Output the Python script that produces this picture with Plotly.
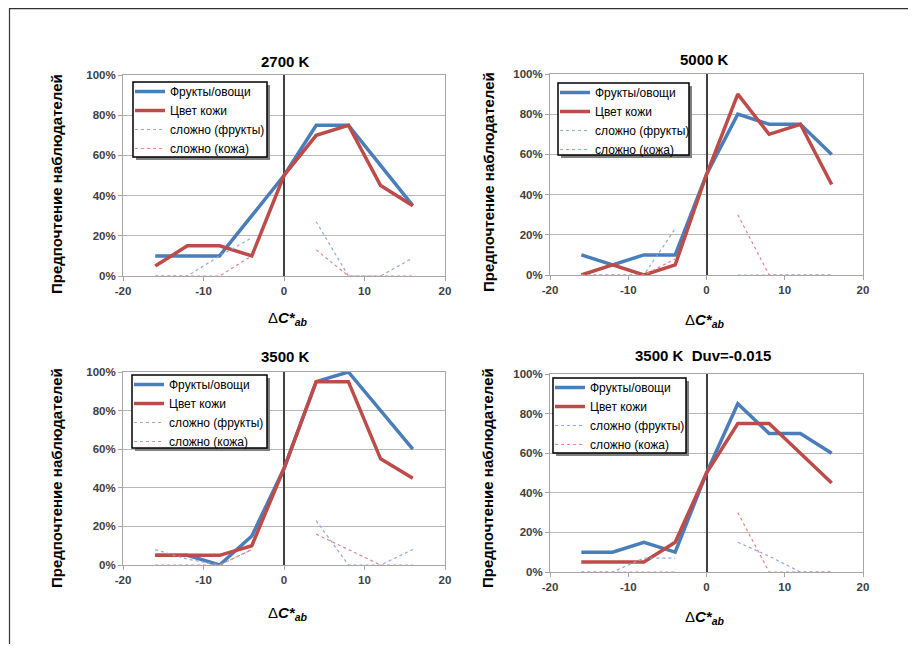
import plotly.graph_objects as go

# page body has an 8px margin: figure is drawn at screen offset (8, 8)
OFF = 8
W, H = 900, 636

x_vals = [-16, -12, -8, -4, 0, 4, 8, 12, 16]

titles = ["2700 K", "5000 K", "3500 K", "3500 K  Duv=-0.015"]

# percent values per panel
fruit_2700 = [10, 10, 10, 30, 50, 75, 75, 55, 35]
skin_2700 = [5, 15, 15, 10, 50, 70, 75, 45, 35]
cfruit_2700 = [0, 0, 10, 19, None, 27, 0, 0, 9]
cskin_2700 = [0, 0, 0, 10, None, 13, 0, 0, 0]

fruit_5000 = [10, 5, 10, 10, 50, 80, 75, 75, 60]
skin_5000 = [0, 5, 0, 5, 50, 90, 70, 75, 45]
cfruit_5000 = [0, 0, 0, 23, None, 0, 0, 0, 0]
cskin_5000 = [0, 0, 0, 8, None, 30, 0, 0, 0]

fruit_3500 = [5, 5, 0, 15, 50, 95, 100, 80, 60]
skin_3500 = [5, 5, 5, 10, 50, 95, 95, 55, 45]
cfruit_3500 = [8, 3, 0, 8, None, 23, 0, 0, 8]
cskin_3500 = [0, 0, 0, 8, None, 16, 8, 0, 0]

fruit_duv = [10, 10, 15, 10, 50, 85, 70, 70, 60]
skin_duv = [5, 5, 5, 15, 50, 75, 75, 60, 45]
cfruit_duv = [0, 0, 7, 7, None, 15, 8, 0, 0]
cskin_duv = [0, 0, 0, 0, None, 30, 0, 0, 0]

series_names = ["Фрукты/овощи", "Цвет кожи", "сложно (фрукты)", "сложно (кожа)"]
y_ticks = [0, 0.2, 0.4, 0.6, 0.8, 1.0]
y_tick_labels = ["0%", "20%", "40%", "60%", "80%", "100%"]
x_ticks = [-20, -10, 0, 10, 20]
x_tick_labels = ["-20", "-10", "0", "10", "20"]

panels = [
    (fruit_2700, skin_2700, cfruit_2700, cskin_2700),
    (fruit_5000, skin_5000, cfruit_5000, cskin_5000),
    (fruit_3500, skin_3500, cfruit_3500, cskin_3500),
    (fruit_duv, skin_duv, cfruit_duv, cskin_duv),
]

# screen-pixel boxes of plot areas: (left, right, top(100%), bottom(0%))
boxes = [
    (123, 445, 75, 276),
    (550, 863, 74, 275),
    (123, 445, 372, 565),
    (550, 863, 374, 572),
]
title_pos = [(285, 61), (704, 59), (285, 356), (703, 355)]
ytitle_pos = [(57, 184), (488, 182), (57, 478), (488, 478)]
xtitle_pos = [(288, 318), (705, 320), (288, 613), (705, 617)]
# legend frames (left, top, right, bottom) in screen pixels
legend_boxes = [(133, 82, 267, 157), (558, 83, 689, 155), (132, 375, 267, 448), (553, 378, 686, 453)]

styles = [
    dict(color="#4A7EBB", width=3.5, dash="solid"),
    dict(color="#BE4B48", width=3.5, dash="solid"),
    dict(color="#8EAADB", width=1.2, dash="dot"),
    dict(color="#E8858A", width=1.2, dash="dot"),
]

def px(xs):
    return (xs - OFF) / W

def py(ys):
    return 1 - (ys - OFF) / H

fig = go.Figure()
tick_font = dict(family="Liberation Sans Narrow, Liberation Sans, Arial", size=11.5,
                 color="#404040", weight="bold")

shapes = [
    dict(type="line", xref="paper", yref="paper", x0=px(9), x1=1.0, y0=py(8.7), y1=py(8.7),
         line=dict(color="#333333", width=1.2)),
    dict(type="line", xref="paper", yref="paper", x0=px(9.5), x1=px(9.5), y0=py(8.5), y1=0,
         line=dict(color="#333333", width=1.2)),
]

for i, (data, box) in enumerate(zip(panels, boxes)):
    n = i + 1
    xa = "x" if n == 1 else f"x{n}"
    ya = "y" if n == 1 else f"y{n}"
    lg = "legend" if n == 1 else f"legend{n}"
    for name, vals, st in zip(series_names, data, styles):
        fig.add_trace(go.Scatter(
            x=x_vals, y=[None if v is None else v / 100 for v in vals],
            mode="lines", name=name, line=st, xaxis=xa, yaxis=ya,
            legend=lg, connectgaps=False, hoverinfo="skip"))
    l, r, t, b = box
    xk = "xaxis" if n == 1 else f"xaxis{n}"
    yk = "yaxis" if n == 1 else f"yaxis{n}"
    fig.layout[xk] = dict(
        domain=[px(l), px(r)], range=[-20, 20], tickvals=x_ticks, ticktext=x_tick_labels,
        showgrid=False, zeroline=True, zerolinecolor="#404040", zerolinewidth=1.5,
        showline=True, linecolor="#A6A6A6", linewidth=1, mirror=True,
        ticks="outside", ticklen=4, tickcolor="#A6A6A6",
        tickfont=tick_font, anchor=ya, automargin=False, fixedrange=True)
    fig.layout[yk] = dict(
        domain=[py(b), py(t)], range=[0, 1], tickvals=y_ticks, ticktext=y_tick_labels,
        showgrid=True, gridcolor="#B8B8B8", gridwidth=1, zeroline=False,
        showline=True, linecolor="#A6A6A6", linewidth=1, mirror=True,
        ticks="outside", ticklen=4, tickcolor="#A6A6A6",
        tickfont=tick_font, anchor=xa, automargin=False, fixedrange=True)
    bl, bt, br, bb = legend_boxes[i]
    # legend entries (transparent) placed inside a drawn frame
    fig.layout[lg] = dict(
        x=px(bl - 3), y=py(bt - 5), xanchor="left", yanchor="top",
        bgcolor="rgba(0,0,0,0)", borderwidth=0,
        font=dict(family="Liberation Sans, Arial", size=12, color="#000000"),
        tracegroupgap=0, itemwidth=30)
    shapes.append(dict(type="rect", xref="paper", yref="paper", layer="above",
                       x0=px(bl + 3), x1=px(br + 3), y0=py(bb + 3), y1=py(bt + 3),
                       fillcolor="#808080", line=dict(width=0)))
    shapes.append(dict(type="rect", xref="paper", yref="paper", layer="above",
                       x0=px(bl), x1=px(br), y0=py(bb), y1=py(bt),
                       fillcolor="white", line=dict(color="#000000", width=1.5)))

annotations = []
for i in range(4):
    tx, ty = title_pos[i]
    annotations.append(dict(
        text=f"<b>{titles[i]}</b>", x=px(tx), y=py(ty), xref="paper", yref="paper",
        showarrow=False, xanchor="center", yanchor="middle",
        font=dict(family="Liberation Sans, Arial", size=15, color="#000000")))
    yx, yy = ytitle_pos[i]
    annotations.append(dict(
        text="<b>Предпочтение наблюдателей</b>", x=px(yx), y=py(yy), xref="paper", yref="paper",
        showarrow=False, xanchor="center", yanchor="middle", textangle=-90,
        font=dict(family="Liberation Sans, Arial", size=15, color="#000000")))
    xx, xy = xtitle_pos[i]
    annotations.append(dict(
        text="Δ<b><i>C*</i></b><sub><b><i>ab</i></b></sub>", x=px(xx), y=py(xy),
        xref="paper", yref="paper", showarrow=False, xanchor="center", yanchor="middle",
        font=dict(family="Liberation Sans, Arial", size=15, color="#000000")))

fig.update_layout(
    width=W, height=H, margin=dict(l=0, r=0, t=0, b=0),
    paper_bgcolor="white", plot_bgcolor="white",
    annotations=annotations, shapes=shapes, showlegend=True,
)

fig.write_html("out.html")
